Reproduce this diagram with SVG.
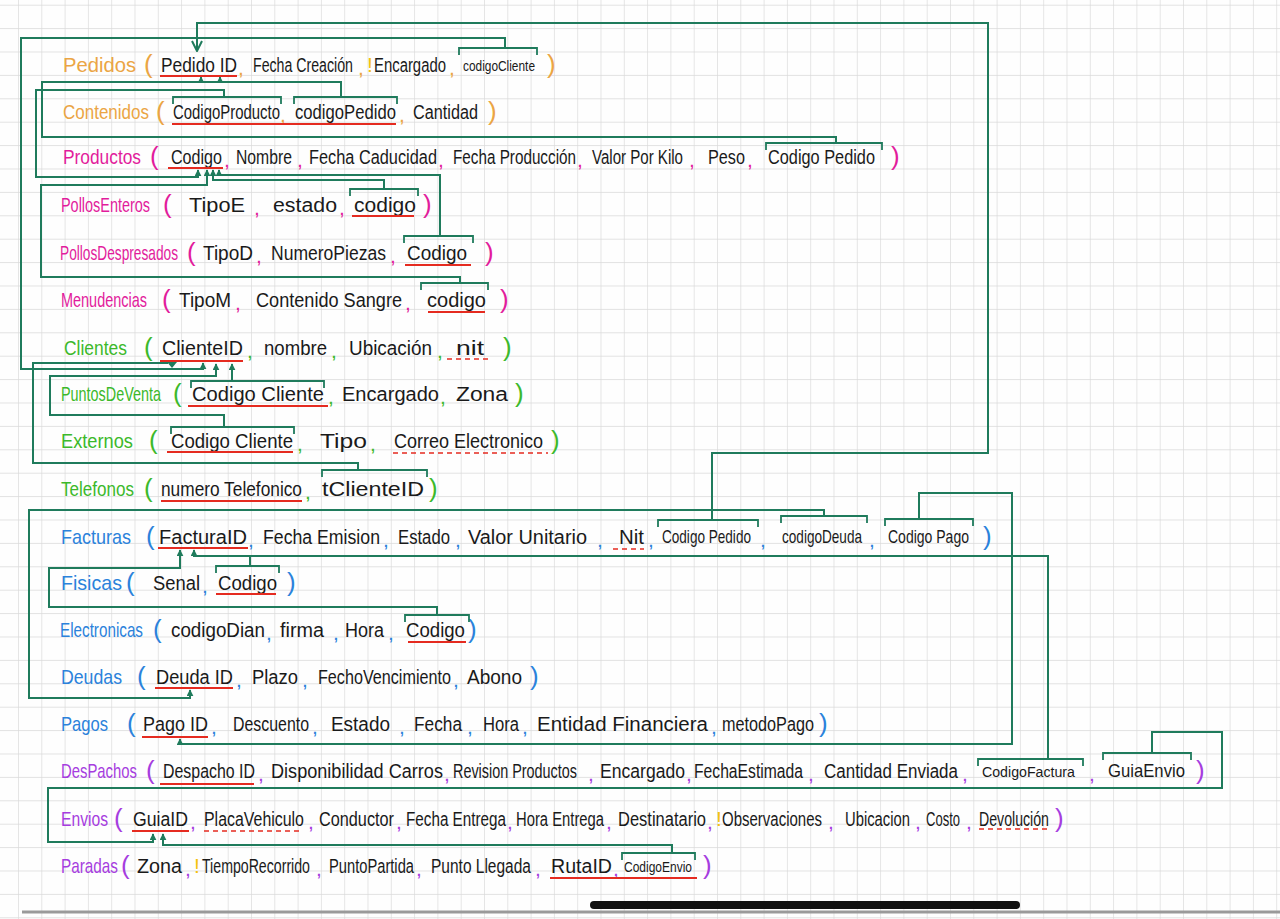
<svg xmlns="http://www.w3.org/2000/svg" width="1280" height="919" viewBox="0 0 1280 919">
<style>
text{font-family:"Liberation Sans Narrow","Liberation Sans","DejaVu Sans Condensed",sans-serif;font-size:21px;fill:#1a1a1a}
.sm{font-size:15px}.md{font-size:18px}.pk{font-size:26px}.nm{font-size:20px}
.o{fill:#eba544}.m{fill:#e21c9c}.g{fill:#3cb92b}.b{fill:#2b82db}.p{fill:#a63ddf}.y{fill:#f4c20d}
.c{stroke:#1f7b5c;stroke-width:2;fill:none}
.br{stroke:#1f7b5c;stroke-width:1.8;fill:none}
.u{stroke:#e52b20;stroke-width:2;fill:none}
.ud{stroke:#e52b20;stroke-width:1.6;fill:none;stroke-dasharray:5 4}
</style>
<defs>
<pattern id="grid" x="18" y="4.7" width="23.3" height="23.4" patternUnits="userSpaceOnUse">
<path d="M23.3 0 H0 V23.4" fill="none" stroke="#d9d9d9" stroke-width="1.3"/>
</pattern>
<marker id="ah" viewBox="0 0 10 10" refX="9" refY="5" markerWidth="7" markerHeight="7" markerUnits="userSpaceOnUse" orient="auto"><path d="M0,0 L10,5 L0,10 z" fill="#1f7b5c"/></marker>
<marker id="av" viewBox="0 0 12 12" refX="11" refY="6" markerWidth="12" markerHeight="12" markerUnits="userSpaceOnUse" orient="auto"><path d="M1,1 L11,6 L1,11" fill="none" stroke="#1f7b5c" stroke-width="2"/></marker>
</defs>
<rect width="1280" height="919" fill="#fefefe"/>
<rect width="1280" height="919" fill="url(#grid)"/>

<g id="connectors">
<path class="c" d="M712 520 V453 H988 V23 H197 V51" marker-end="url(#av)"/>
<path class="c" d="M505 48 V38 H21 V369 H203 V363" marker-end="url(#ah)"/>
<path class="c" d="M836 143 V137 H42 V82 H201 V77" marker-end="url(#ah)"/>
<path class="c" d="M341 97 V82 H201"/>
<path class="c" d="M220 82 V77" marker-end="url(#ah)"/>
<path class="c" d="M224 97 V90 H36 V177 H198 V170" marker-end="url(#ah)"/>
<path class="c" d="M460 283 V277 H41 V185 H207 V170" marker-end="url(#ah)"/>
<path class="c" d="M384 189 V180 H213 V170" marker-end="url(#ah)"/>
<path class="c" d="M440 236 V175 H219 V170" marker-end="url(#ah)"/>
<path class="c" d="M358 470 V463 H33 V363 H168"/>
<polygon points="167,362 177,362 172,368" fill="#1f7b5c"/>
<path class="c" d="M224 427 V415 H50 V376 H216 V364" marker-end="url(#ah)"/>
<path class="c" d="M232 381 V364" marker-end="url(#ah)"/>
<path class="c" d="M824 516 V510 H29 V698 H190 V690" marker-end="url(#ah)"/>
<path class="c" d="M919 519 V493 H1012 V744 H180 V739" marker-end="url(#ah)"/>
<path class="c" d="M1048 759 V556 H194 V550" marker-end="url(#ah)"/>
<path class="c" d="M250 566 V556"/>
<path class="c" d="M437 615 V607 H49 V568 H180 V550" marker-end="url(#ah)"/>
<path class="c" d="M1152 753 V732 H1222 V788 H48 V842 H153 V834" marker-end="url(#ah)"/>
<path class="c" d="M672 853 V845 H163 V834" marker-end="url(#ah)"/>
</g>

<g id="pedidos">
<g transform="scale(0.625 1)">
<text class="o nm" x="100.8" y="72" textLength="116.8" lengthAdjust="spacingAndGlyphs">Pedidos</text>
<text x="257.6" y="72" textLength="121.6" lengthAdjust="spacingAndGlyphs">Pedido ID</text>
<text x="404.8" y="72" textLength="160" lengthAdjust="spacingAndGlyphs">Fecha Creación</text>
<text x="598.4" y="72" textLength="115.2" lengthAdjust="spacingAndGlyphs">Encargado</text>
<text class="sm" x="740.8" y="71" textLength="115.2" lengthAdjust="spacingAndGlyphs">codigoCliente</text>
</g>
<text class="o pk" x="144" y="73">(</text>
<text class="o" x="238" y="75">,</text>
<text class="o" x="358" y="75">,</text>
<text class="y" x="367" y="72">!</text>
<text class="o" x="449" y="75">,</text>
<text class="o pk" x="547" y="73">)</text>
<line class="u" x1="160" y1="76" x2="237" y2="76"/>
<path class="br" d="M459 55 V48 H537 V55"/>
</g>

<g id="contenidos">
<g transform="scale(0.625 1)">
<text class="o nm" x="100.8" y="119" textLength="137.6" lengthAdjust="spacingAndGlyphs">Contenidos</text>
<text x="276.8" y="119" textLength="171.2" lengthAdjust="spacingAndGlyphs">CodigoProducto</text>
<text x="472" y="119" textLength="161.6" lengthAdjust="spacingAndGlyphs">codigoPedido</text>
<text x="660.8" y="119" textLength="104" lengthAdjust="spacingAndGlyphs">Cantidad</text>
</g>
<text class="o pk" x="156" y="120">(</text>
<text class="o" x="280" y="122">,</text>
<text class="o" x="399" y="122">,</text>
<text class="o pk" x="488" y="120">)</text>
<line class="u" x1="172" y1="124" x2="396" y2="124"/>
<path class="br" d="M173 104 V97 H281 V104"/>
<path class="br" d="M294 104 V97 H397 V104"/>
</g>

<g id="productos">
<g transform="scale(0.625 1)">
<text class="m nm" x="100.8" y="164" textLength="124.8" lengthAdjust="spacingAndGlyphs">Productos</text>
<text x="273.6" y="164" textLength="81.6" lengthAdjust="spacingAndGlyphs">Codigo</text>
<text x="377.6" y="164" textLength="89.6" lengthAdjust="spacingAndGlyphs">Nombre</text>
<text x="494.4" y="164" textLength="204.8" lengthAdjust="spacingAndGlyphs">Fecha Caducidad</text>
<text x="724.8" y="164" textLength="196.8" lengthAdjust="spacingAndGlyphs">Fecha Producción</text>
<text x="947.2" y="164" textLength="145.6" lengthAdjust="spacingAndGlyphs">Valor Por Kilo</text>
<text x="1132.8" y="164" textLength="59.2" lengthAdjust="spacingAndGlyphs">Peso</text>
<text x="1228.8" y="164" textLength="171.2" lengthAdjust="spacingAndGlyphs">Codigo Pedido</text>
</g>
<text class="m pk" x="150" y="165">(</text>
<text class="m" x="224" y="167">,</text>
<text class="m" x="297" y="167">,</text>
<text class="m" x="438" y="167">,</text>
<text class="m" x="577" y="167">,</text>
<text class="m" x="689" y="167">,</text>
<text class="m" x="747" y="167">,</text>
<text class="m pk" x="891" y="165">)</text>
<line class="u" x1="168" y1="168" x2="223" y2="168"/>
<path class="br" d="M766 150 V143 H882 V150"/>
</g>

<g id="pollos-enteros">
<g transform="scale(0.625 1)">
<text class="m nm" x="97.6" y="212" textLength="142.4" lengthAdjust="spacingAndGlyphs">PollosEnteros</text>
<text x="302.4" y="212" textLength="89.6" lengthAdjust="spacingAndGlyphs">TipoE</text>
<text x="436.8" y="212" textLength="102.4" lengthAdjust="spacingAndGlyphs">estado</text>
<text x="566.4" y="212" textLength="99.2" lengthAdjust="spacingAndGlyphs">codigo</text>
</g>
<text class="m pk" x="163" y="213">(</text>
<text class="m" x="254" y="215">,</text>
<text class="m" x="339" y="215">,</text>
<text class="m pk" x="423" y="213">)</text>
<line class="u" x1="352" y1="216" x2="414" y2="216"/>
<path class="br" d="M350 196 V189 H418 V196"/>
</g>

<g id="pollos-despresados">
<g transform="scale(0.625 1)">
<text class="m nm" x="96" y="260" textLength="188.8" lengthAdjust="spacingAndGlyphs">PollosDespresados</text>
<text x="324.8" y="260" textLength="80" lengthAdjust="spacingAndGlyphs">TipoD</text>
<text x="433.6" y="260" textLength="184" lengthAdjust="spacingAndGlyphs">NumeroPiezas</text>
<text x="651.2" y="260" textLength="96" lengthAdjust="spacingAndGlyphs">Codigo</text>
</g>
<text class="m pk" x="187" y="261">(</text>
<text class="m" x="256" y="263">,</text>
<text class="m" x="390" y="263">,</text>
<text class="m pk" x="485" y="261">)</text>
<line class="u" x1="405" y1="265" x2="471" y2="265"/>
<path class="br" d="M404 243 V236 H473 V243"/>
</g>

<g id="menudencias">
<g transform="scale(0.625 1)">
<text class="m nm" x="97.6" y="307" textLength="137.6" lengthAdjust="spacingAndGlyphs">Menudencias</text>
<text x="286.4" y="307" textLength="83.2" lengthAdjust="spacingAndGlyphs">TipoM</text>
<text x="409.6" y="307" textLength="233.6" lengthAdjust="spacingAndGlyphs">Contenido Sangre</text>
<text x="683.2" y="307" textLength="94.4" lengthAdjust="spacingAndGlyphs">codigo</text>
</g>
<text class="m pk" x="162" y="308">(</text>
<text class="m" x="235" y="310">,</text>
<text class="m" x="405" y="310">,</text>
<text class="m pk" x="500" y="308">)</text>
<line class="u" x1="428" y1="312" x2="485" y2="312"/>
<path class="br" d="M421 290 V283 H488 V290"/>
</g>

<g id="clientes">
<g transform="scale(0.625 1)">
<text class="g nm" x="102.4" y="355" textLength="100.8" lengthAdjust="spacingAndGlyphs">Clientes</text>
<text x="259.2" y="355" textLength="129.6" lengthAdjust="spacingAndGlyphs">ClienteID</text>
<text x="422.4" y="355" textLength="100.8" lengthAdjust="spacingAndGlyphs">nombre</text>
<text x="558.4" y="355" textLength="132.8" lengthAdjust="spacingAndGlyphs">Ubicación</text>
<text x="729.6" y="355" textLength="44.8" lengthAdjust="spacingAndGlyphs">nit</text>
</g>
<text class="g pk" x="144" y="356">(</text>
<text class="g" x="247" y="358">,</text>
<text class="g" x="331" y="358">,</text>
<text class="g" x="437" y="358">,</text>
<text class="g pk" x="503" y="356">)</text>
<line class="u" x1="160" y1="361" x2="243" y2="361"/>
<line class="ud" x1="447" y1="359" x2="490" y2="359"/>
</g>

<g id="puntos-de-venta">
<g transform="scale(0.625 1)">
<text class="g nm" x="97.6" y="401" textLength="160" lengthAdjust="spacingAndGlyphs">PuntosDeVenta</text>
<text x="307.2" y="401" textLength="211.2" lengthAdjust="spacingAndGlyphs">Codigo Cliente</text>
<text x="547.2" y="401" textLength="155.2" lengthAdjust="spacingAndGlyphs">Encargado</text>
<text x="729.6" y="401" textLength="83.2" lengthAdjust="spacingAndGlyphs">Zona</text>
</g>
<text class="g pk" x="173" y="402">(</text>
<text class="g" x="328" y="404">,</text>
<text class="g" x="440" y="404">,</text>
<text class="g pk" x="515" y="402">)</text>
<line class="u" x1="188" y1="406" x2="328" y2="406"/>
<path class="br" d="M191 388 V381 H324 V388"/>
</g>

<g id="externos">
<g transform="scale(0.625 1)">
<text class="g nm" x="97.6" y="448" textLength="115.2" lengthAdjust="spacingAndGlyphs">Externos</text>
<text x="273.6" y="448" textLength="195.2" lengthAdjust="spacingAndGlyphs">Codigo Cliente</text>
<text x="512" y="448" textLength="75.2" lengthAdjust="spacingAndGlyphs">Tipo</text>
<text x="630.4" y="448" textLength="238.4" lengthAdjust="spacingAndGlyphs">Correo Electronico</text>
</g>
<text class="g pk" x="149" y="449">(</text>
<text class="g" x="297" y="451">,</text>
<text class="g" x="370" y="451">,</text>
<text class="g pk" x="551" y="449">)</text>
<line class="u" x1="167" y1="452" x2="293" y2="452"/>
<line class="ud" x1="393" y1="453" x2="548" y2="453"/>
<path class="br" d="M171 434 V427 H294 V434"/>
</g>

<g id="telefonos">
<g transform="scale(0.625 1)">
<text class="g nm" x="97.6" y="496" textLength="116.8" lengthAdjust="spacingAndGlyphs">Telefonos</text>
<text x="257.6" y="496" textLength="225.6" lengthAdjust="spacingAndGlyphs">numero Telefonico</text>
<text x="515.2" y="496" textLength="163.2" lengthAdjust="spacingAndGlyphs">tClienteID</text>
</g>
<text class="g pk" x="144" y="497">(</text>
<text class="g" x="305" y="499">,</text>
<text class="g pk" x="429" y="497">)</text>
<line class="u" x1="161" y1="501" x2="302" y2="501"/>
<path class="br" d="M322 477 V470 H427 V477"/>
</g>

<g id="facturas">
<g transform="scale(0.625 1)">
<text class="b nm" x="97.6" y="544" textLength="112" lengthAdjust="spacingAndGlyphs">Facturas</text>
<text x="254.4" y="544" textLength="140.8" lengthAdjust="spacingAndGlyphs">FacturaID</text>
<text x="420.8" y="544" textLength="187.2" lengthAdjust="spacingAndGlyphs">Fecha Emision</text>
<text x="636.8" y="544" textLength="83.2" lengthAdjust="spacingAndGlyphs">Estado</text>
<text x="748.8" y="544" textLength="190.4" lengthAdjust="spacingAndGlyphs">Valor Unitario</text>
<text x="990.4" y="544" textLength="40" lengthAdjust="spacingAndGlyphs">Nit</text>
<text class="md" x="1059.2" y="543" textLength="142.4" lengthAdjust="spacingAndGlyphs">Codigo Pedido</text>
<text class="md" x="1251.2" y="543" textLength="128" lengthAdjust="spacingAndGlyphs">codigoDeuda</text>
<text class="md" x="1420.8" y="543" textLength="129.6" lengthAdjust="spacingAndGlyphs">Codigo Pago</text>
</g>
<text class="b pk" x="146" y="545">(</text>
<text class="b" x="248" y="547">,</text>
<text class="b" x="383" y="547">,</text>
<text class="b" x="455" y="547">,</text>
<text class="b" x="597" y="547">,</text>
<text class="b" x="648" y="547">,</text>
<text class="b" x="760" y="547">,</text>
<text class="b" x="869" y="547">,</text>
<text class="b pk" x="983" y="545">)</text>
<line class="u" x1="158" y1="548" x2="248" y2="548"/>
<line class="ud" x1="613" y1="549" x2="644" y2="549"/>
<path class="br" d="M658 527 V520 H758 V527"/>
<path class="br" d="M781 523 V516 H867 V523"/>
<path class="br" d="M885 526 V519 H973 V526"/>
</g>

<g id="fisicas">
<g transform="scale(0.625 1)">
<text class="b nm" x="97.6" y="590" textLength="97.6" lengthAdjust="spacingAndGlyphs">Fisicas</text>
<text x="244.8" y="590" textLength="75.2" lengthAdjust="spacingAndGlyphs">Senal</text>
<text x="348.8" y="590" textLength="94.4" lengthAdjust="spacingAndGlyphs">Codigo</text>
</g>
<text class="b pk" x="126" y="591">(</text>
<text class="b" x="202" y="593">,</text>
<text class="b pk" x="287" y="591">)</text>
<line class="u" x1="216" y1="594" x2="276" y2="594"/>
<path class="br" d="M216 573 V566 H279 V573"/>
</g>

<g id="electronicas">
<g transform="scale(0.625 1)">
<text class="b nm" x="96" y="637" textLength="132.8" lengthAdjust="spacingAndGlyphs">Electronicas</text>
<text x="273.6" y="637" textLength="150.4" lengthAdjust="spacingAndGlyphs">codigoDian</text>
<text x="448" y="637" textLength="70.4" lengthAdjust="spacingAndGlyphs">firma</text>
<text x="552" y="637" textLength="62.4" lengthAdjust="spacingAndGlyphs">Hora</text>
<text x="649.6" y="637" textLength="94.4" lengthAdjust="spacingAndGlyphs">Codigo</text>
</g>
<text class="b pk" x="153" y="638">(</text>
<text class="b" x="266" y="640">,</text>
<text class="b" x="333" y="640">,</text>
<text class="b" x="388" y="640">,</text>
<text class="b pk" x="468" y="638">)</text>
<line class="u" x1="408" y1="642" x2="466" y2="642"/>
<path class="br" d="M405 622 V615 H469 V622"/>
</g>

<g id="deudas">
<g transform="scale(0.625 1)">
<text class="b nm" x="97.6" y="684" textLength="97.6" lengthAdjust="spacingAndGlyphs">Deudas</text>
<text x="249.6" y="684" textLength="123.2" lengthAdjust="spacingAndGlyphs">Deuda ID</text>
<text x="403.2" y="684" textLength="73.6" lengthAdjust="spacingAndGlyphs">Plazo</text>
<text x="508.8" y="684" textLength="212.8" lengthAdjust="spacingAndGlyphs">FechoVencimiento</text>
<text x="747.2" y="684" textLength="88" lengthAdjust="spacingAndGlyphs">Abono</text>
</g>
<text class="b pk" x="137" y="685">(</text>
<text class="b" x="236" y="687">,</text>
<text class="b" x="302" y="687">,</text>
<text class="b" x="453" y="687">,</text>
<text class="b pk" x="530" y="685">)</text>
<line class="u" x1="155" y1="688" x2="233" y2="688"/>
</g>

<g id="pagos">
<g transform="scale(0.625 1)">
<text class="b nm" x="97.6" y="731" textLength="75.2" lengthAdjust="spacingAndGlyphs">Pagos</text>
<text x="228.8" y="731" textLength="104" lengthAdjust="spacingAndGlyphs">Pago ID</text>
<text x="372.8" y="731" textLength="121.6" lengthAdjust="spacingAndGlyphs">Descuento</text>
<text x="529.6" y="731" textLength="94.4" lengthAdjust="spacingAndGlyphs">Estado</text>
<text x="662.4" y="731" textLength="76.8" lengthAdjust="spacingAndGlyphs">Fecha</text>
<text x="772.8" y="731" textLength="57.6" lengthAdjust="spacingAndGlyphs">Hora</text>
<text x="859.2" y="731" textLength="273.6" lengthAdjust="spacingAndGlyphs">Entidad Financiera</text>
<text x="1155.2" y="731" textLength="147.2" lengthAdjust="spacingAndGlyphs">metodoPago</text>
</g>
<text class="b pk" x="127" y="732">(</text>
<text class="b" x="211" y="734">,</text>
<text class="b" x="312" y="734">,</text>
<text class="b" x="399" y="734">,</text>
<text class="b" x="467" y="734">,</text>
<text class="b" x="522" y="734">,</text>
<text class="b" x="711" y="734">,</text>
<text class="b pk" x="819" y="732">)</text>
<line class="u" x1="142" y1="737" x2="208" y2="737"/>
</g>

<g id="despachos">
<g transform="scale(0.625 1)">
<text class="p nm" x="97.6" y="778" textLength="121.6" lengthAdjust="spacingAndGlyphs">DesPachos</text>
<text x="260.8" y="778" textLength="147.2" lengthAdjust="spacingAndGlyphs">Despacho ID</text>
<text x="433.6" y="778" textLength="275.2" lengthAdjust="spacingAndGlyphs">Disponibilidad Carros</text>
<text x="724.8" y="778" textLength="198.4" lengthAdjust="spacingAndGlyphs">Revision Productos</text>
<text x="960" y="778" textLength="136" lengthAdjust="spacingAndGlyphs">Encargado</text>
<text x="1110.4" y="778" textLength="174.4" lengthAdjust="spacingAndGlyphs">FechaEstimada</text>
<text x="1318.4" y="778" textLength="214.4" lengthAdjust="spacingAndGlyphs">Cantidad Enviada</text>
<text class="sm" x="1571.2" y="777" textLength="148.8" lengthAdjust="spacingAndGlyphs">CodigoFactura</text>
<text class="md" x="1772.8" y="777" textLength="123.2" lengthAdjust="spacingAndGlyphs">GuiaEnvio</text>
</g>
<text class="p pk" x="146" y="779">(</text>
<text class="p" x="258" y="781">,</text>
<text class="p" x="444" y="781">,</text>
<text class="p" x="588" y="781">,</text>
<text class="p" x="686" y="781">,</text>
<text class="p" x="808" y="781">,</text>
<text class="p" x="962" y="781">,</text>
<text class="p" x="1089" y="781">,</text>
<text class="p pk" x="1196" y="779">)</text>
<line class="u" x1="160" y1="784" x2="254" y2="784"/>
<path class="br" d="M978 766 V759 H1083 V766"/>
<path class="br" d="M1103 760 V753 H1191 V760"/>
</g>

<g id="envios">
<g transform="scale(0.625 1)">
<text class="p nm" x="97.6" y="826" textLength="75.2" lengthAdjust="spacingAndGlyphs">Envios</text>
<text x="212.8" y="826" textLength="88" lengthAdjust="spacingAndGlyphs">GuiaID</text>
<text x="326.4" y="826" textLength="160" lengthAdjust="spacingAndGlyphs">PlacaVehiculo</text>
<text x="510.4" y="826" textLength="120" lengthAdjust="spacingAndGlyphs">Conductor</text>
<text x="649.6" y="826" textLength="160" lengthAdjust="spacingAndGlyphs">Fecha Entrega</text>
<text x="825.6" y="826" textLength="140.8" lengthAdjust="spacingAndGlyphs">Hora Entrega</text>
<text x="988.8" y="826" textLength="140.8" lengthAdjust="spacingAndGlyphs">Destinatario</text>
<text x="1155.2" y="826" textLength="160" lengthAdjust="spacingAndGlyphs">Observaciones</text>
<text x="1352" y="826" textLength="104" lengthAdjust="spacingAndGlyphs">Ubicacion</text>
<text x="1481.6" y="826" textLength="54.4" lengthAdjust="spacingAndGlyphs">Costo</text>
<text x="1566.4" y="826" textLength="112" lengthAdjust="spacingAndGlyphs">Devolución</text>
</g>
<text class="p pk" x="114" y="827">(</text>
<text class="p" x="190" y="829">,</text>
<text class="p" x="308" y="829">,</text>
<text class="p" x="396" y="829">,</text>
<text class="p" x="507" y="829">,</text>
<text class="p" x="606" y="829">,</text>
<text class="p" x="707" y="829">,</text>
<text class="y" x="716" y="826">!</text>
<text class="p" x="828" y="829">,</text>
<text class="p" x="915" y="829">,</text>
<text class="p" x="966" y="829">,</text>
<text class="p pk" x="1055" y="827">)</text>
<line class="u" x1="132" y1="831" x2="189" y2="831"/>
<line class="ud" x1="204" y1="831" x2="302" y2="831"/>
<line class="ud" x1="979" y1="829" x2="1049" y2="829"/>
</g>

<g id="paradas">
<g transform="scale(0.625 1)">
<text class="p nm" x="97.6" y="873" textLength="91.2" lengthAdjust="spacingAndGlyphs">Paradas</text>
<text x="219.2" y="873" textLength="72" lengthAdjust="spacingAndGlyphs">Zona</text>
<text x="323.2" y="873" textLength="172.8" lengthAdjust="spacingAndGlyphs">TiempoRecorrido</text>
<text x="526.4" y="873" textLength="136" lengthAdjust="spacingAndGlyphs">PuntoPartida</text>
<text x="689.6" y="873" textLength="160" lengthAdjust="spacingAndGlyphs">Punto Llegada</text>
<text x="881.6" y="873" textLength="97.6" lengthAdjust="spacingAndGlyphs">RutaID</text>
<text class="sm" x="998.4" y="872" textLength="108.8" lengthAdjust="spacingAndGlyphs">CodigoEnvio</text>
</g>
<text class="p pk" x="121" y="874">(</text>
<text class="p" x="185" y="876">,</text>
<text class="y" x="194" y="873">!</text>
<text class="p" x="316" y="876">,</text>
<text class="p" x="416" y="876">,</text>
<text class="p" x="535" y="876">,</text>
<text class="p" x="613" y="876">,</text>
<text class="p pk" x="703" y="874">)</text>
<line class="u" x1="550" y1="878" x2="697" y2="878"/>
<path class="br" d="M622 860 V853 H695 V860"/>
</g>

<line x1="22" y1="912" x2="1280" y2="912" stroke="#9a9a9a" stroke-width="3"/>
<rect x="590" y="901" width="430" height="8" rx="4" fill="#111"/>
</svg>
